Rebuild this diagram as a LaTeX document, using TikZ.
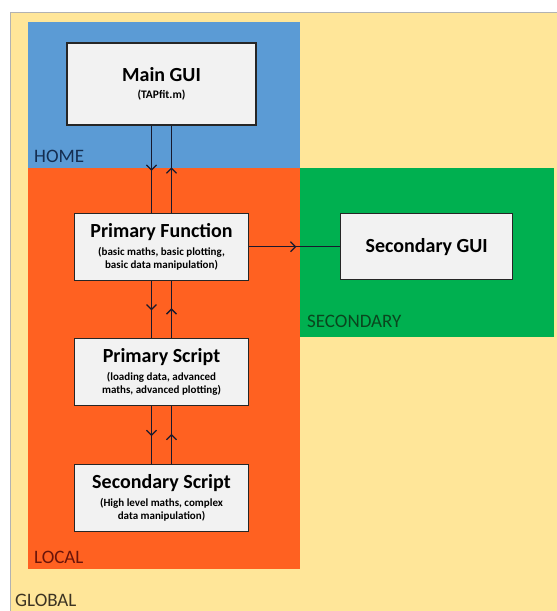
\documentclass[tikz,border=0pt]{standalone}
\usepackage{fontspec}
\setmainfont{Carlito}
\usetikzlibrary{positioning,arrows.meta,decorations.markings}
\definecolor{globalc}{RGB}{255,230,153}
\definecolor{homec}{RGB}{91,155,213}
\definecolor{localc}{RGB}{255,97,33}
\definecolor{secc}{RGB}{0,176,80}
\definecolor{boxc}{RGB}{242,242,242}
\definecolor{linec}{RGB}{25,25,45}
\newcommand{\boxtitle}[1]{{\fontsize{20}{22}\selectfont #1}}
\newcommand{\calldown}[2]{%
  \draw[link] ([xshift=-10pt]#1.south) -- ([xshift=-10pt]#2.north)}
\newcommand{\returnup}[2]{%
  \draw[link] ([xshift=10pt]#2.north) -- ([xshift=10pt]#1.south)}
\newcommand{\callright}[2]{%
  \draw[link] (#1) -- (#2)}

\begin{document}
\begin{tikzpicture}[x=1pt, y=-1pt,
    module/.style={rectangle, draw=black!85, line width=1.2pt, fill=boxc,
    align=center, inner sep=2pt, font=\fontsize{11}{13}\selectfont\bfseries},
    link/.style={draw=linec, line width=1.3pt,
    decoration={markings, mark=at position 0.52 with {\arrow{>}}},
    postaction={decorate}},
    zone/.style={font=\fontsize{19}{22}\selectfont, anchor=base west, inner sep=0pt},
    >={Straight Barb[length=5pt,width=10pt,line width=1.3pt]}]
  \useasboundingbox (0,0) rectangle (557,611);

  % scopes
  \fill[globalc] (10,12) rectangle (557,611);
  \draw[black!30, line width=0.8pt] (10,611) -- (10,12) -- (557,12);
  \fill[homec] (28,22) rectangle (300,168);
  \fill[localc] (28,168) rectangle (300,569);
  \fill[secc] (300,168) rectangle (554,337);
  \node[zone, text={rgb,255:red,20;green,45;blue,80}] (home) at (34,162) {HOME};
  \node[zone, text={rgb,255:red,105;green,20;blue,10}] (local) at (34,563) {LOCAL};
  \node[zone, text={rgb,255:red,10;green,70;blue,30}] (secondary) at (307,327) {SECONDARY};
  \node[zone, text={rgb,255:red,60;green,52;blue,35}] (global) at (15,606) {GLOBAL};

  % modules
  \node[module, minimum width=189pt, minimum height=82pt] (gui) at (161.5,84)
    {\boxtitle{Main GUI}\\[4pt]{\fontsize{11.5}{13}\selectfont (TAPfit.m)}};
  \node[module, minimum width=174pt, minimum height=67pt, below=87pt of gui] (func)
    {\boxtitle{Primary Function}\\[5pt](basic maths, basic plotting,\\basic data manipulation)};
  \node[module, minimum width=174pt, minimum height=67pt, below=57pt of func] (pscript)
    {\boxtitle{Primary Script}\\[5pt](loading data, advanced\\maths, advanced plotting)};
  \node[module, minimum width=174pt, minimum height=67pt, below=58pt of pscript] (sscript)
    {\boxtitle{Secondary Script}\\[5pt](High level maths, complex\\data manipulation)};
  \node[module, minimum width=172pt, minimum height=66pt, right=91pt of func] (sgui)
    {\boxtitle{Secondary GUI}};

  \calldown{gui}{func};
  \returnup{gui}{func};
  \calldown{func}{pscript};
  \returnup{func}{pscript};
  \calldown{pscript}{sscript};
  \returnup{pscript}{sscript};
  \callright{func}{sgui};
\end{tikzpicture}
\end{document}
